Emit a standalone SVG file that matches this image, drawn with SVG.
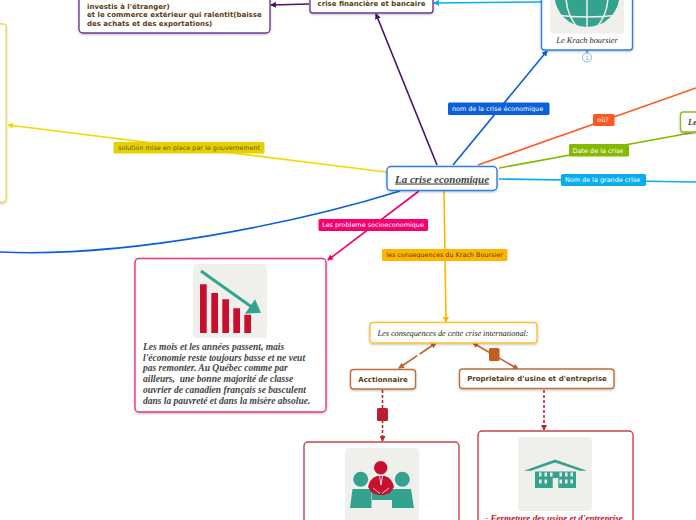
<svg xmlns="http://www.w3.org/2000/svg" width="696" height="520" viewBox="0 0 696 520">
<style>
.n{fill:#fff;stroke-width:1.4}
.c{fill:none;stroke-width:1.6}
.l{font:6.45px "DejaVu Sans",sans-serif;text-anchor:middle}
.b{font:bold 7px "DejaVu Sans",sans-serif;fill:#5c3a10}
.s{font:italic bold 9.5px "Liberation Serif",serif;fill:#444}
.t{font:italic 8.3px "Liberation Serif",serif;fill:#222;text-rendering:geometricPrecision}
.i{fill:#efefeb}
.g{fill:#34a38e}
.r{fill:#c8102e}
</style>
<defs>
<filter id="sh" x="-10%" y="-10%" width="120%" height="125%"><feDropShadow dx="0" dy="1" stdDeviation="1" flood-color="#000" flood-opacity=".25"/></filter>
<marker id="a" viewBox="0 0 6 6" refX="5" refY="3" markerWidth="6" markerHeight="6" markerUnits="userSpaceOnUse" orient="auto-start-reverse"><path d="M0 0L6 3L0 6z" fill="context-stroke"/></marker>
</defs>
<g id="connectors">
<path class="c" stroke="#f2d900" d="M386 172L8 125" marker-end="url(#a)"/>
<path class="c" stroke="#0b5fd8" d="M400 191C300 222 130 258 0 252"/>
<path class="c" stroke="#f5006e" d="M419 191L328 260" marker-end="url(#a)"/>
<path class="c" stroke="#ffb400" d="M444 191L446 322" marker-end="url(#a)"/>
<path class="c" stroke="#4a1070" d="M437 165L376 14" marker-end="url(#a)"/>
<path class="c" stroke="#0b5fd8" d="M453 165L547 51" marker-end="url(#a)"/>
<path class="c" stroke="#ff5722" d="M478 165L696 88"/>
<path class="c" stroke="#85b800" d="M499 168L696 132"/>
<path class="c" stroke="#0aaeef" d="M499 179L696 182"/>
<path class="c" stroke="#0aaeef" d="M541 2L434 3" marker-end="url(#a)"/>
<path class="c" stroke="#4a1070" d="M309 4L271 5" marker-end="url(#a)"/>
<path class="c" stroke="#c0622a" d="M399 368L436 343" stroke-dasharray="22 3 30" marker-start="url(#a)" marker-end="url(#a)"/>
<path class="c" stroke="#c0622a" d="M473 343L518 369" marker-start="url(#a)" marker-end="url(#a)"/>
<path class="c" stroke="#c0272d" stroke-dasharray="3 2" d="M382.500 390V441" marker-end="url(#a)"/>
<path class="c" stroke="#c0272d" stroke-dasharray="3 2" d="M544 390V430" marker-end="url(#a)"/>
<rect x="489" y="348" width="10.500" height="13" rx="1.500" fill="#c05f20"/>
<rect x="377" y="408" width="11" height="13" rx="1.500" fill="#b82030"/>
<g id="labels">
<rect x="113.500" y="142" width="151" height="11.500" rx="1.500" fill="#e8d000"/><text class="l" x="189" y="150.200" fill="#665c00">solution mise en place par le gouvernement</text>
<rect x="448" y="102.500" width="101.500" height="12.500" rx="1.500" fill="#0b5fd8"/><text class="l" x="497.500" y="111.200" fill="#fff">nom de la crise économique</text>
<rect x="593" y="114" width="21.500" height="12" rx="1.500" fill="#ff5722"/><text class="l" x="603" y="122.400" fill="#fff">où?</text>
<rect x="569" y="144" width="60" height="12.500" rx="1.500" fill="#85b800"/><text class="l" x="598" y="152.800" fill="#fff">Date de la crise</text>
<rect x="561" y="174" width="85" height="12" rx="1.500" fill="#0aaeef"/><text class="l" x="602.500" y="182.400" fill="#fff">Nom de la grande crise</text>
<rect x="318.500" y="219" width="109.500" height="12" rx="1.500" fill="#f5006e"/><text class="l" x="373" y="227.400" fill="#fff">Les probleme socioeconomique</text>
<rect x="382" y="249" width="125.500" height="12" rx="1.500" fill="#ffb400"/><text class="l" x="444.500" y="257.400" fill="#5c4400">les consequences du Krach Boursier</text>
</g>
</g>
<g id="node-solution"><rect class="n" filter="url(#sh)" x="-10" y="24" width="16" height="178" rx="3" stroke="#eedd66"/></g>
<g id="node-commerce"><rect class="n" filter="url(#sh)" x="79" y="-20" width="191" height="53" rx="4" stroke="#6f3a90"/>
<text class="b" x="87" y="9">investis à l'étranger)</text>
<text class="b" x="87" y="17">et le commerce extérieur qui ralentit(baisse</text>
<text class="b" x="87" y="26">des achats et des exportations)</text></g>
<g id="node-financiere"><rect class="n" filter="url(#sh)" x="310" y="-15" width="123" height="28" rx="3" stroke="#6f3a90"/>
<text class="b" x="371.500" y="6" text-anchor="middle">crise financière et bancaire</text></g>
<g id="node-krach"><rect class="n" filter="url(#sh)" x="541.500" y="-30" width="91" height="80" rx="3" stroke="#2f7de0"/>
<rect class="i" x="550" y="-40" width="74" height="73.500" rx="3"/>
<circle class="g" cx="587" cy="-5.500" r="32.500"/>
<path d="M555 15Q587 19 619 15M587 -8V28M566 -2Q567 16 578 28M608 -2Q607 16 596 28" fill="none" stroke="#efefeb" stroke-width="1.500"/>
<text class="t" x="587" y="43" text-anchor="middle">Le Krach boursier</text>
<path d="M587 50.500V53" stroke="#2f7de0" stroke-width="1.500"/>
<circle cx="587" cy="57.500" r="4.500" fill="#fff" stroke="#6aa5ea" stroke-width=".8"/>
<text x="587" y="59.800" text-anchor="middle" style="font:6px 'DejaVu Sans',sans-serif;fill:#6aa5ea">1</text></g>
<g id="node-le"><rect class="n" filter="url(#sh)" x="680.500" y="112" width="40" height="20" rx="3" stroke="#8fb82a"/>
<text x="688" y="124.500" style="font:italic bold 8.500px 'Liberation Serif',serif;fill:#444">Le</text></g>
<g id="node-central"><rect class="n" filter="url(#sh)" x="387" y="166.500" width="110" height="24" rx="4" stroke="#2f7de0"/>
<text x="442" y="182.500" text-anchor="middle" text-decoration="underline" style="font:italic bold 11px 'Liberation Serif',serif;fill:#444">La crise economique</text></g>
<g id="node-probleme"><rect class="n" filter="url(#sh)" x="135" y="258.500" width="191" height="153.500" rx="4" stroke="#f0307f"/>
<rect class="i" x="193" y="264" width="74" height="74" rx="4"/>
<path class="r" d="M200 284.300h6.700V333h-6.700zM211.300 293h6.700v40h-6.700zM222.300 299.300h6.700V333h-6.700zM233.300 308.300h6.700V333h-6.700zM244.300 314.700h6.700V333h-6.700z"/>
<path d="M201 271L256 310" stroke="#34a38e" stroke-width="3" fill="none"/>
<path class="g" d="M245 313.700L261 312.700L255 299.300z"/>
<g class="s"><text x="143" y="349.500">Les mois et les années passent, mais</text>
<text x="143" y="360.500">l'économie reste toujours basse et ne veut</text>
<text x="143" y="371">pas remonter. Au Québec comme par</text>
<text x="143" y="382" xml:space="preserve">ailleurs,  une bonne majorité de classe</text>
<text x="143" y="393">ouvrier de canadien français se basculent</text>
<text x="143" y="404">dans la pauvreté et dans la misère absolue.</text></g></g>
<g id="node-consequences"><rect class="n" filter="url(#sh)" x="370" y="322.500" width="167" height="20.500" rx="3" stroke="#ffc030"/>
<text class="t" x="453" y="335.500" text-anchor="middle" textLength="151">Les consequences de cette crise international:</text></g>
<g id="node-acctionnaire"><rect class="n" filter="url(#sh)" x="350.500" y="369.500" width="65" height="19.500" rx="3" stroke="#c0703a"/>
<text class="b" x="383" y="382.200" text-anchor="middle">Acctionnaire</text></g>
<g id="node-proprietaire"><rect class="n" filter="url(#sh)" x="459.500" y="369" width="154.500" height="19.500" rx="3" stroke="#c0703a"/>
<text class="b" x="537" y="381.200" text-anchor="middle">Proprietaire d'usine et d'entreprise</text></g>
<g id="node-acctionnaire-detail"><rect class="n" x="304" y="442" width="155" height="100" rx="4" stroke="#c8424a"/>
<rect class="i" x="345" y="448" width="74" height="74" rx="4"/>
<circle class="g" cx="360.700" cy="479.300" r="7.500"/><circle class="g" cx="402.300" cy="479.300" r="7.500"/>
<path class="g" d="M352.500 489H371.500V508H350zM392 489H411L414 508H392z"/>
<rect class="g" x="372" y="487" width="20" height="13"/>
<circle class="r" cx="380.700" cy="467.700" r="6.700"/>
<path class="r" d="M368 487Q370 478 377 476H385Q392 478 394 487L390 493L384 495H378L372 493z"/>
<path d="M379.500 476L381 485L382.500 476M373 488L380 493.500M389 488L382 493.500" fill="none" stroke="#efefeb" stroke-width=".9"/>
</g>
<g id="node-proprietaire-detail"><rect class="n" x="478" y="431" width="155" height="110" rx="4" stroke="#c8424a"/>
<rect class="i" x="518" y="437" width="74" height="74" rx="4"/>
<path class="g" d="M524 470.700L555 459.500L587 470.700H580L555 462.500L531 470.700z"/>
<path class="g" d="M535 471.500H576V488H535z"/>
<path d="M539 472.500h2.500v4h-2.500zM544.500 472.500h2.500v4h-2.500zM550 472.500h2.500v4h-2.500zM559.500 472.500h2.500v4h-2.500zM565 472.500h2.500v4h-2.500zM570.500 472.500h2.500v4h-2.500zM539 479.500h2.500v4h-2.500zM544.500 479.500h2.500v4h-2.500zM565 479.500h2.500v4h-2.500zM570.500 479.500h2.500v4h-2.500zM559.500 479.500h2.500v4h-2.500zM552.700 478h5.600v10h-5.600z" fill="#efefeb"/>
<text x="554" y="520.500" text-anchor="middle" style="font:italic bold 9.100px 'Liberation Serif',serif;fill:#c8102e">- Fermeture des usine et d'entreprise</text></g>
</svg>
